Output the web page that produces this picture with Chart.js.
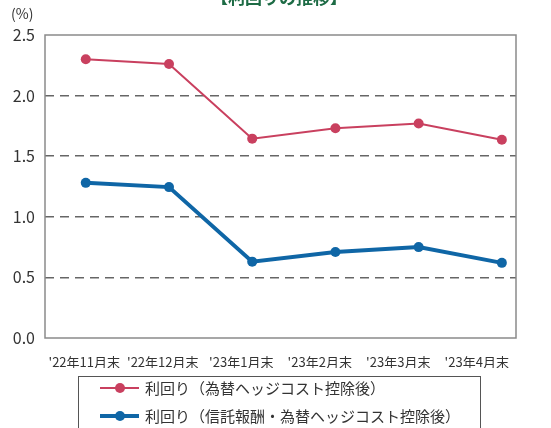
<!DOCTYPE html>
<html>
<head>
<meta charset="utf-8">
<script src="https://cdn.jsdelivr.net/npm/chart.js@4/dist/chart.umd.min.js"></script>
<style>
  html, body { margin: 0; padding: 0; background: #fff; }
  #wrap { width: 551px; height: 428px; }
</style>
</head>
<body>
<div id="wrap"><canvas id="chart" width="551" height="428"></canvas></div>
<script>
var months = ["'22年11月末", "'22年12月末", "'23年1月末", "'23年2月末", "'23年3月末", "'23年4月末"];
var yieldHedged = [2.30, 2.26, 1.645, 1.73, 1.77, 1.635];
var yieldNet    = [1.28, 1.245, 0.63, 0.71, 0.75, 0.62];
var yTicks = [0, 0.5, 1.0, 1.5, 2.0, 2.5];

var RED  = '#c9405f';
var BLUE = '#0f66a6';
var FONT = "'Noto Sans CJK JP', 'Noto Sans', sans-serif";

function toPoints(values) {
  return values.map(function(v, i){ return { x: i, y: v }; });
}

// frame, title, unit label and the boxed legend
var decorations = {
  id: 'decorations',
  afterDraw: function(chart) {
    var ctx = chart.ctx;
    var area = chart.chartArea;
    ctx.save();

    ctx.strokeStyle = '#8a8a8a';
    ctx.lineWidth = 1.5;
    ctx.setLineDash([]);
    ctx.strokeRect(area.left, area.top, area.right - area.left, area.bottom - area.top);

    ctx.fillStyle = '#1d6b45';
    ctx.font = 'bold 17px ' + FONT;
    ctx.textAlign = 'center';
    ctx.textBaseline = 'middle';
    ctx.fillText('【利回りの推移】', 279, -2);

    ctx.fillStyle = '#333';
    ctx.font = '14px ' + FONT;
    ctx.textAlign = 'left';
    ctx.fillText('(%)', 11, 14);

    // legend box
    ctx.strokeStyle = '#555';
    ctx.lineWidth = 1;
    ctx.strokeRect(78.5, 376.5, 402, 60);

    var rows = [
      { y: 388, color: RED,  width: 2, label: chart.data.datasets[0].label },
      { y: 416, color: BLUE, width: 4, label: chart.data.datasets[1].label }
    ];
    rows.forEach(function(r){
      ctx.strokeStyle = r.color;
      ctx.lineWidth = r.width;
      ctx.beginPath();
      ctx.moveTo(100, r.y);
      ctx.lineTo(139, r.y);
      ctx.stroke();
      ctx.fillStyle = r.color;
      ctx.beginPath();
      ctx.arc(120, r.y, 5, 0, Math.PI * 2);
      ctx.fill();
      ctx.fillStyle = '#333';
      ctx.font = '15px ' + FONT;
      ctx.textAlign = 'left';
      ctx.textBaseline = 'middle';
      ctx.fillText(r.label, 145, r.y);
    });

    ctx.restore();
  }
};

var chart = new Chart(document.getElementById('chart'), {
  type: 'line',
  data: {
    labels: months,
    datasets: [
      {
        label: '利回り（為替ヘッジコスト控除後）',
        data: toPoints(yieldHedged),
        xAxisID: 'xp',
        borderColor: RED,
        backgroundColor: RED,
        borderWidth: 2,
        pointRadius: 5,
        pointBorderWidth: 0,
        tension: 0
      },
      {
        label: '利回り（信託報酬・為替ヘッジコスト控除後）',
        data: toPoints(yieldNet),
        xAxisID: 'xp',
        borderColor: BLUE,
        backgroundColor: BLUE,
        borderWidth: 4,
        pointRadius: 5,
        pointBorderWidth: 0,
        tension: 0
      }
    ]
  },
  options: {
    responsive: false,
    animation: false,
    layout: { padding: { top: 35, right: 35, left: 0, bottom: 60 } },
    plugins: {
      legend: { display: false },
      tooltip: { enabled: false }
    },
    scales: {
      x: {
        type: 'category',
        offset: true,
        grid: { display: false },
        border: { display: false },
        ticks: {
          color: '#333',
          font: { family: FONT, size: 13 },
          padding: 8,
          maxRotation: 0,
          autoSkip: false
        },
        afterFit: function(scale){ scale.height = 30; }
      },
      xp: {
        type: 'linear',
        display: false,
        min: -0.49,
        max: 5.17
      },
      y: {
        min: 0,
        max: 2.5,
        afterBuildTicks: function(scale){
          scale.ticks = yTicks.map(function(v){ return { value: v }; });
        },
        grid: {
          drawTicks: false,
          lineWidth: 1.5,
          color: function(c){
            var v = c.tick && c.tick.value;
            return (v === 0 || v === 2.5) ? 'rgba(0,0,0,0)' : '#666';
          }
        },
        border: { display: false, dash: [9, 6] },
        ticks: {
          color: '#333',
          font: { family: FONT, size: 16 },
          padding: 10,
          callback: function(v){ return Number(v).toFixed(1); }
        },
        afterFit: function(scale){ scale.width = 45; }
      }
    }
  },
  plugins: [decorations]
});
</script>
</body>
</html>
